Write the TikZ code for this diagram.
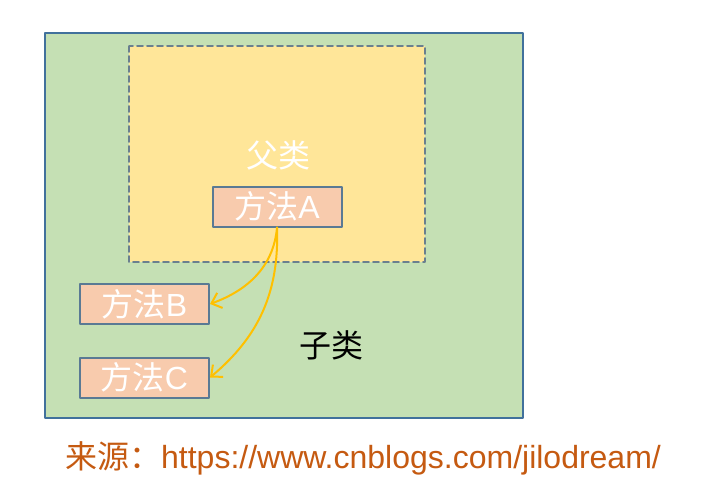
\documentclass[tikz,border=0pt]{standalone}
\usepackage{fontspec}
\setmainfont{Liberation Sans}
\newfontfamily\cjk{Noto Sans CJK SC}
\usetikzlibrary{arrows.meta}
\definecolor{subgreen}{HTML}{C5E0B4}
\definecolor{subedge}{HTML}{41719C}
\definecolor{supyellow}{HTML}{FFE699}
\definecolor{supedge}{HTML}{6A7F8F}
\definecolor{methfill}{HTML}{F8CBAD}
\definecolor{methedge}{HTML}{5A7A94}
\definecolor{callgold}{HTML}{FFC000}
\definecolor{srcorange}{HTML}{C55A11}
\tikzset{
  method/.style={draw=methedge, line width=2pt, fill=methfill, text=white,
    minimum width=129pt, minimum height=40pt, inner sep=0pt, font=\fontsize{32}{36}\selectfont},
  call/.style={draw=callgold, line width=2pt, -{Straight Barb[length=9pt,width=16pt]}}
}
\begin{document}
\begin{tikzpicture}[line cap=round, line join=round, x=1pt, y=-1pt]
    \useasboundingbox (0,0) rectangle (709,492);

    \draw[draw=subedge, line width=1.8pt, fill=subgreen] (45,33) rectangle (523,418);
    \draw[draw=supedge, line width=1.8pt, dash pattern=on 6pt off 4pt, fill=supyellow] (129,46) rectangle (425,262);

    \node[text=white, font=\cjk\fontsize{32}{36}\selectfont] (parent) at (278,155) {父类};
    \node[font=\cjk\fontsize{32}{36}\selectfont] (child) at (331,345) {子类};

    \node[method] (methA) at (277,206.5) {{\cjk 方法}A};
    \node[method] (methB) at (144.5,304) {{\cjk 方法}B};
    \node[method] (methC) at (144.5,377.5) {{\cjk 方法}C};

    \draw[call] (methA.south) to[out=-95, in=20] (methB.east);
    \draw[call] (methA.south) to[out=-88, in=40] (methC.east);

    \node[text=srcorange, font=\fontsize{32}{36}\selectfont] (source) at (363,458) {{\cjk 来源：}https://www.cnblogs.com/jilodream/};

\end{tikzpicture}
\end{document}
